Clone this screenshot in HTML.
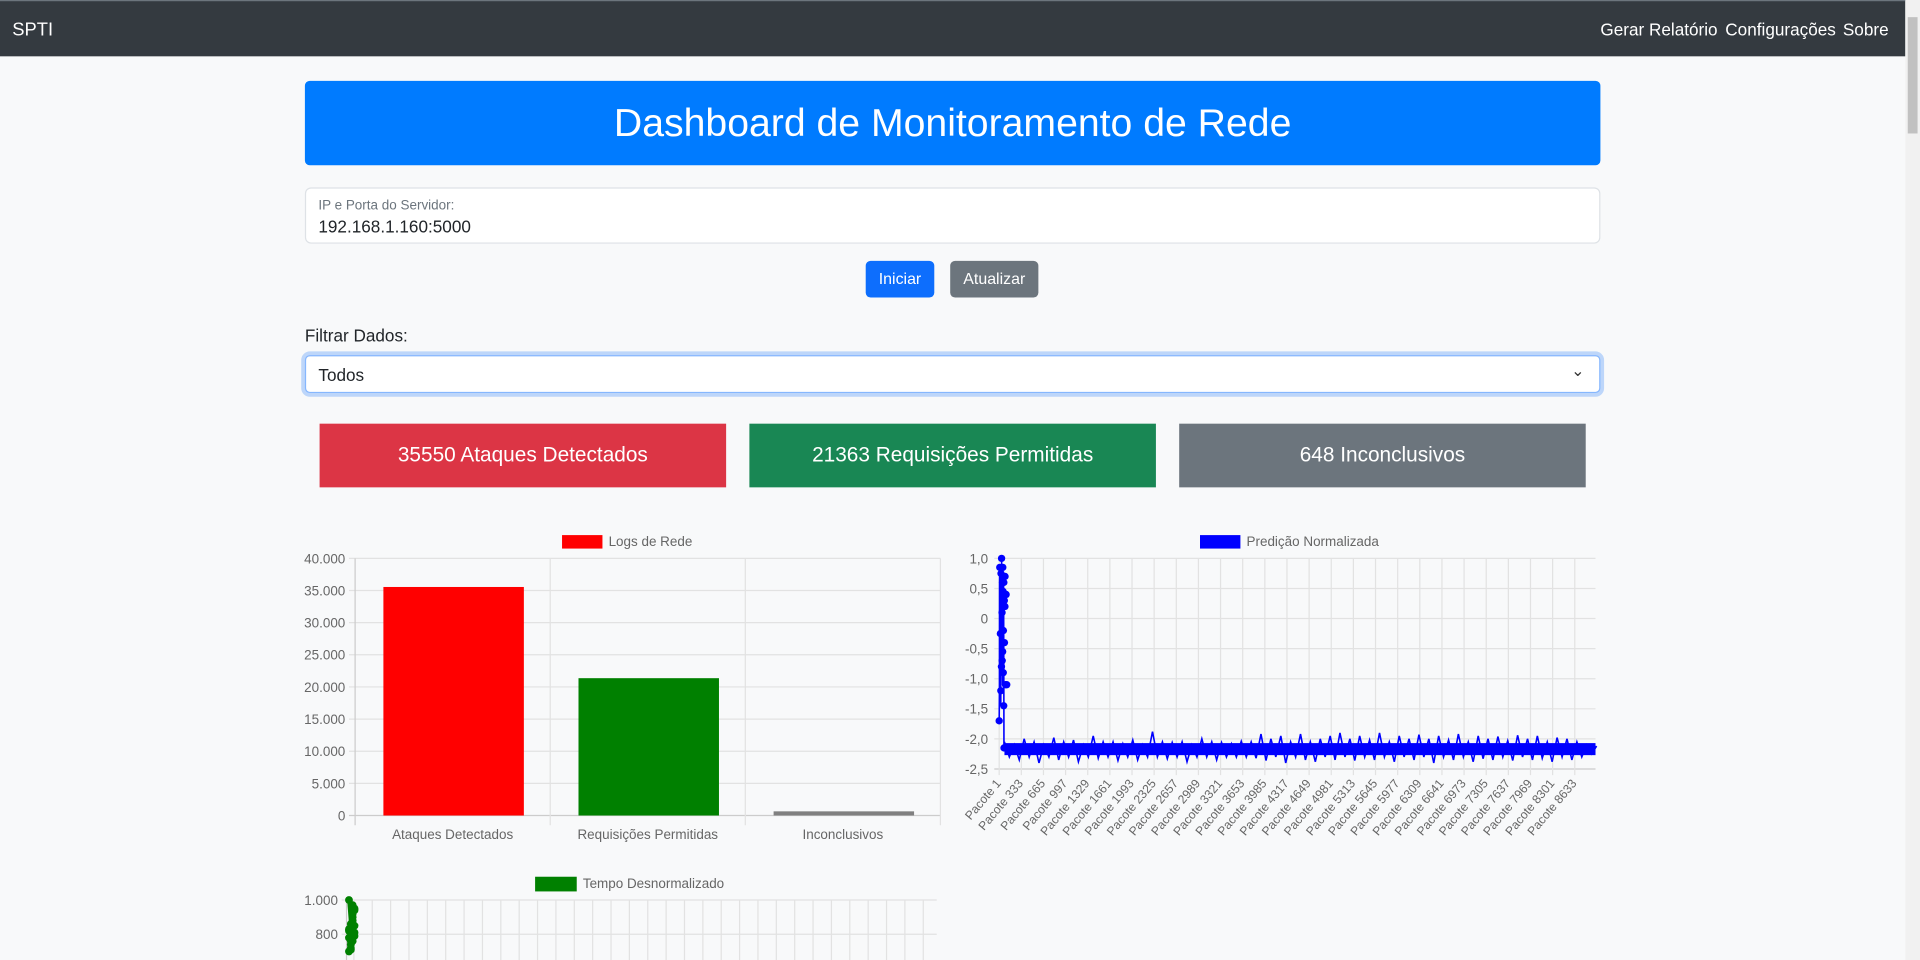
<!DOCTYPE html>
<html><head><meta charset="utf-8">
<style>
html,body{margin:0;padding:0;width:1920px;height:960px;overflow:hidden;background:#f8f9fa;}
#root{position:absolute;left:0;top:0;width:1568px;height:784px;transform:scale(1.22449);transform-origin:0 0;font-family:"Liberation Sans",sans-serif;background:#f8f9fa;}
.abs{position:absolute;box-sizing:border-box;}
.nav{left:0;top:0;width:1556px;height:46px;background:#343a40;border-top:1px solid #6c757d;}
.nav span{position:absolute;top:15px;color:#fff;font-size:14px;}
.card{top:346px;height:52px;color:#fff;font-size:17px;text-align:center;line-height:52px;}
svg text{font-family:"Liberation Sans",sans-serif;fill:#666;}
</style></head><body>
<div id="root">
<div class="abs nav">
  <span style="left:10px;font-size:15px">SPTI</span>
  <span style="left:1307px">Gerar Relatório</span>
  <span style="left:1409px">Configurações</span>
  <span style="left:1505px">Sobre</span>
</div>
<div class="abs" style="left:1556px;top:0;width:12px;height:784px;background:#f1f1f1"><div class="abs" style="left:2px;top:14px;width:8px;height:95px;background:#c1c1c1"></div></div>
<div class="abs" style="left:249px;top:66px;width:1058px;height:69px;background:#007bff;border-radius:4px;color:#fff;font-size:32px;text-align:center;line-height:69px">Dashboard de Monitoramento de Rede</div>
<div class="abs" style="left:249px;top:153px;width:1058px;height:46px;background:#fff;border:1px solid #dee2e6;border-radius:5px">
  <div class="abs" style="left:10px;top:8px;font-size:11px;color:#6c757d">IP e Porta do Servidor:</div>
  <div class="abs" style="left:10px;top:23px;font-size:14px;color:#212529">192.168.1.160:5000</div>
</div>
<div class="abs" style="left:707px;top:213px;width:56px;height:30px;background:#0d6efd;border-radius:4px;color:#fff;font-size:13px;text-align:center;line-height:30px">Iniciar</div>
<div class="abs" style="left:776px;top:213px;width:72px;height:30px;background:#6c757d;border-radius:4px;color:#fff;font-size:13px;text-align:center;line-height:30px">Atualizar</div>
<div class="abs" style="left:249px;top:266px;font-size:14px;color:#212529">Filtrar Dados:</div>
<div class="abs" style="left:249px;top:290px;width:1058px;height:31px;background:#fff;border:1px solid #86b7fe;border-radius:4px;box-shadow:0 0 0 3px rgba(13,110,253,.25)">
  <div class="abs" style="left:10px;top:7px;font-size:14px;color:#212529">Todos</div>
  <div class="abs" style="right:12px;top:4px;font-size:13px;color:#333">&#8964;</div>
</div>
<div class="abs card" style="left:261px;width:332px;background:#dc3545">35550 Ataques Detectados</div>
<div class="abs card" style="left:612px;width:332px;background:#198754">21363 Requisições Permitidas</div>
<div class="abs card" style="left:963px;width:332px;background:#6c757d">648 Inconclusivos</div>
<svg class="abs" id="charts" style="left:0;top:0" width="1568" height="784"></svg>
</div>
<script>
const barCategories=["Ataques Detectados","Requisições Permitidas","Inconclusivos"];
const barValues=[35550,21363,648];
const barColors=["#ff0000","#008000","#808080"];
const barTicks=[0,5000,10000,15000,20000,25000,30000,35000,40000];
const barTickLabels=["0","5.000","10.000","15.000","20.000","25.000","30.000","35.000","40.000"];
const lineTicks=[1.0,0.5,0,-0.5,-1.0,-1.5,-2.0,-2.5];
const lineTickLabels=["1,0","0,5","0","-0,5","-1,0","-1,5","-2,0","-2,5"];
const packetCount=8944;
const packetLabelStep=332;
const spikeStart=1, spikeStep=3;
const spikeValues=[-1.7,-1.2,0.6,0.85,-0.8,0.45,-0.25,0.1,-1.45,0.75,-0.55,0.3,1.0,-0.9,0.2,-0.7,0.6,-1.1,0.85,-0.4,0.4,-0.2,0.7,-1.1,-2.15];
const bandStart=80, bandStep=74;
const bandValues=[-2.05,-2.3,-2.1,-2.35,-2.0,-2.3,-2.05,-2.4,-2.1,-2.3,-1.98,-2.35,-2.05,-2.3,-2.02,-2.38,-2.1,-2.3,-1.95,-2.32,-2.05,-2.3,-2.05,-2.36,-2.08,-2.3,-2.02,-2.35,-2.1,-2.3,-1.88,-2.3,-2.05,-2.33,-2.06,-2.3,-2.05,-2.38,-2.1,-2.3,-2.0,-2.3,-2.05,-2.35,-2.06,-2.3,-2.08,-2.3,-2.04,-2.3,-2.05,-2.32,-1.92,-2.36,-2.0,-2.3,-1.95,-2.4,-2.05,-2.3,-1.92,-2.35,-2.05,-2.38,-2.0,-2.3,-1.95,-2.35,-1.9,-2.3,-2.0,-2.36,-1.95,-2.3,-2.02,-2.35,-1.9,-2.3,-2.05,-2.38,-1.95,-2.3,-2.0,-2.35,-1.93,-2.3,-2.0,-2.4,-1.95,-2.3,-2.02,-2.35,-1.92,-2.3,-2.05,-2.38,-1.95,-2.33,-2.0,-2.35,-1.96,-2.3,-2.03,-2.36,-1.94,-2.3,-2.0,-2.35,-1.95,-2.32,-2.05,-2.38,-1.98,-2.3,-2.0,-2.35,-2.05,-2.3,-2.1,-2.25,-2.12];
const timeTicks=[1000,800];
const timeTickLabels=["1.000","800"];
const timeValues=[700,760,880,950,820,720,900,790,1000,860,760,940,830,710,920,850,780,740,970,810];

const svg=document.getElementById('charts');
const NS='http://www.w3.org/2000/svg';
function mk(tag,attrs,parent){const e=document.createElementNS(NS,tag);for(const k in attrs)e.setAttribute(k,attrs[k]);(parent||svg).appendChild(e);return e;}
function txt(x,y,s,anchor,size,parent){const t=mk('text',{x:x,y:y,'text-anchor':anchor,'font-size':size},parent);t.textContent=s;return t;}

// ---- bar chart
const bg=mk('g',{});


const bx0=290,bx1=768,by0=666,by1=456;
const barY=v=>by0-(v/40000)*(by0-by1);
const bandW=(bx1-bx0)/barCategories.length;
const barX=i=>bx0+bandW*i;
barTicks.forEach((v,i)=>{
  mk('line',{x1:bx0-5,x2:bx1,y1:barY(v),y2:barY(v),stroke:i==0?'#ccc':'#e2e2e2'},bg);
  const t=txt(bx0-8,barY(v)+4,barTickLabels[i],'end',11,bg);
  
  
});
for(let i=0;i<=barCategories.length;i++){mk('line',{x1:barX(i),x2:barX(i),y1:by1,y2:by0+8,stroke:i==0?'#ccc':'#e2e2e2'},bg);}
barCategories.forEach((c,i)=>{
  const r=mk('rect',{x:barX(i)+bandW*0.145,y:barY(barValues[i]),width:bandW*0.72,height:by0-barY(barValues[i]),fill:barColors[i]},bg);
  
  
  const t=txt(barX(i)+bandW/2,685,c,'middle',11,bg);
  
  
});
const bl=mk('rect',{x:459,y:437,width:33,height:11,fill:'#ff0000'},bg);


const blt=txt(497,446,'Logs de Rede','start',11,bg);



// ---- line chart
const lg=mk('g',{});


const lx0=816,lx1=1303,ly0=628,ly1=456;
const lineY=v=>ly1+(1.0-v)/3.5*(ly0-ly1);
const lineX=p=>lx0+(p-1)/(packetCount-1)*(lx1-lx0);
lineTicks.forEach((v,i)=>{
  mk('line',{x1:lx0-4,x2:lx1,y1:lineY(v),y2:lineY(v),stroke:i==lineTicks.length-1?'#ccc':'#e2e2e2'},lg);
  const t=txt(lx0-9,lineY(v)+4,lineTickLabels[i],'end',11,lg);
  
  
});
for(let p=1;p<packetCount;p+=packetLabelStep){
  const x=lineX(p);
  mk('line',{x1:x,x2:x,y1:ly1,y2:ly0+5,stroke:'#e2e2e2'},lg);
  const t=txt(x+2,ly0+12,'Pacote '+p,'end',10,lg);
  t.setAttribute('transform','rotate(-50 '+(x+2)+' '+(ly0+12)+')');
  
  
}
// band body
mk('rect',{x:lineX(bandStart),y:lineY(-2.07),width:lx1-lineX(bandStart),height:lineY(-2.27)-lineY(-2.07),fill:'#0000ff'},lg);
let pts=[];
spikeValues.forEach((v,i)=>pts.push(lineX(spikeStart+i*spikeStep).toFixed(1)+','+lineY(v).toFixed(1)));
bandValues.forEach((v,i)=>pts.push(lineX(bandStart+i*bandStep).toFixed(1)+','+lineY(v).toFixed(1)));
const pl=mk('polyline',{points:pts.join(' '),fill:'none',stroke:'#0000ff','stroke-width':1.3,'stroke-linejoin':'miter'},lg);


spikeValues.forEach((v,i)=>{
  const c=mk('circle',{cx:lineX(spikeStart+i*spikeStep)+(i%3)*1.2,cy:lineY(v),r:3,fill:'#0000ff'},lg);
  
  
});
const ll=mk('rect',{x:980,y:437,width:33,height:11,fill:'#0000ff'},lg);


const llt=txt(1018,446,'Predição Normalizada','start',11,lg);



// ---- time chart
const tg=mk('g',{});


const tx0=283,tx1=765,tyTop=735;
const timeY=v=>tyTop+(1000-v)/200*28;
timeTicks.forEach((v,i)=>{
  mk('line',{x1:tx0-4,x2:tx1,y1:timeY(v),y2:timeY(v),stroke:'#e2e2e2'},tg);
  const t=txt(tx0-7,timeY(v)+4,timeTickLabels[i],'end',11,tg);
  
  
});
for(let x=tx0+6;x<tx1;x+=15){mk('line',{x1:x,x2:x,y1:tyTop,y2:784,stroke:'#e2e2e2'},tg);}
mk('line',{x1:tx0,x2:tx0,y1:tyTop,y2:784,stroke:'#ccc'},tg);
const tpts=timeValues.map((v,i)=>(285+(i%4)*1.5)+','+timeY(v));
mk('polyline',{points:tpts.join(' '),fill:'none',stroke:'#008000','stroke-width':3},tg);
timeValues.forEach((v,i)=>{
  const c=mk('circle',{cx:285+(i%4)*1.5,cy:timeY(v),r:3.2,fill:'#008000'},tg);
  
  
});
const tl=mk('rect',{x:437,y:716,width:34,height:12,fill:'#008000'},tg);


const tlt=txt(476,725,'Tempo Desnormalizado','start',11,tg);


</script>
</body></html>
